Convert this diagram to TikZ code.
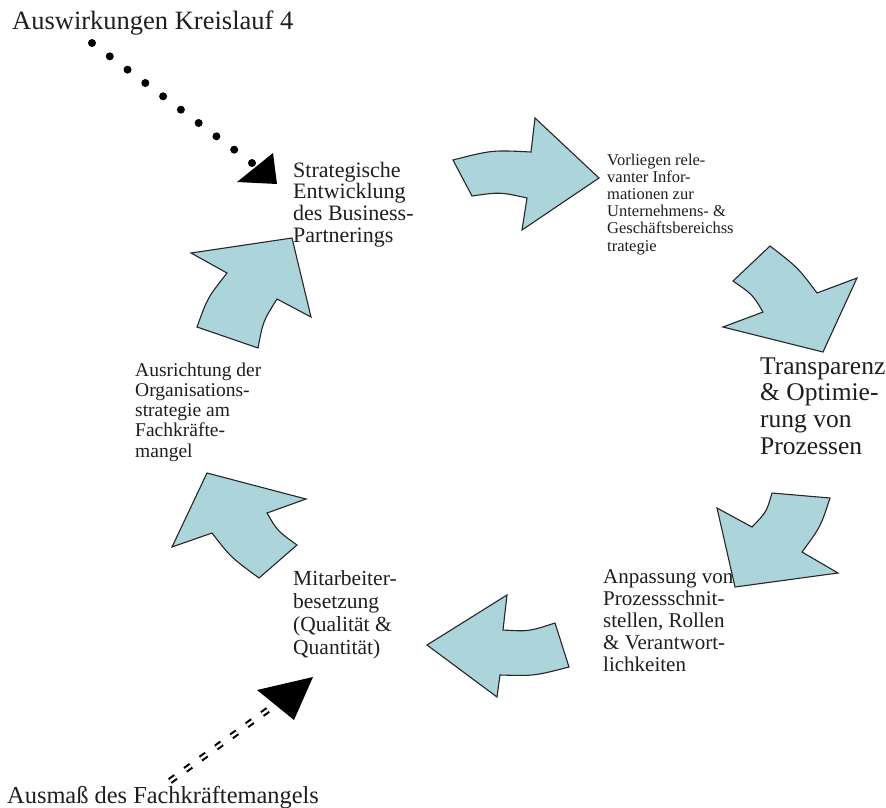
\documentclass[tikz,border=0pt]{standalone}
\usepackage{fontspec}
\setmainfont{Liberation Serif}
\definecolor{cycfill}{RGB}{171,212,219}
\definecolor{inkgray}{RGB}{30,30,30}
\begin{document}
\begin{tikzpicture}[x=1pt,y=-1pt,
  blockarrow/.style={fill=cycfill, draw=black!85, line width=1.1pt, line join=miter},
  % multi-line labels are placed by the baseline of their last line
  lbl/.style={anchor=base west, inner sep=0pt, align=left, text=inkgray},
  dotline/.style={line width=8pt, line cap=round, dash pattern=on 0pt off 22.22pt},
  dashdouble/.style={line width=2.1pt, double=white, double distance=2.4pt, dash pattern=on 7pt off 12pt},
  headfill/.style={fill=black}]
\useasboundingbox (0,0) rectangle (886,807);

% cycle of curved block arrows
\draw[blockarrow] (453,160) .. controls (492,150) .. (531,152) -- (535,118) -- (599,178)
  -- (522,230) -- (527,198) .. controls (500,192) .. (472,196) -- cycle;
\draw[blockarrow] (770,246) -- (733,281) .. controls (752.6,294.6) .. (763,312) -- (723,327)
  -- (823,352) -- (857,278) -- (817,293) .. controls (798,267.6) .. (770,246) -- cycle;
\draw[blockarrow] (772,493) -- (830,498) .. controls (820.5,527) .. (802,552) -- (838,573)
  -- (735,587) -- (717,508) -- (752,527) .. controls (766.5,512) .. (772,493) -- cycle;
\draw[blockarrow] (507,595) -- (503,630) .. controls (528.7,631.5) .. (555,623) -- (569,667)
  .. controls (534.2,676) .. (500,675) -- (497,697) -- (427,645) -- cycle;
\draw[blockarrow] (207,473) -- (306,499) -- (267,513) .. controls (277.4,530.9) .. (297,545)
  -- (259,578) .. controls (230.9,557.4) .. (212,533) -- (172,547) -- cycle;
\draw[blockarrow] (191,253) -- (292,238) -- (311,317) -- (277,299) .. controls (263,321.4) .. (258,348)
  -- (197,327) .. controls (207.5,297.9) .. (227,273) -- cycle;

% labels
\node[lbl, font=\fontsize{26.5}{28}\selectfont] (kreislauf) at (12,29) {Auswirkungen Kreislauf 4};
\node[lbl, font=\fontsize{24.4}{26}\selectfont] (ausmass) at (7,803) {Ausmaß des Fachkräftemangels};

\node[lbl, font=\fontsize{22}{21.7}\selectfont] (strat) at (293,242.1)
  {Strategische\\Entwicklung\\des Business-\\Partnerings};
\node[lbl, font=\fontsize{16.5}{17.2}\selectfont] (info) at (607,251)
  {Vorliegen rele-\\vanter Infor-\\mationen zur\\Unternehmens- \&\\Geschäftsbereichss\\trategie};
\node[lbl, font=\fontsize{25.5}{26.7}\selectfont] (transp) at (760,454.1)
  {Transparenz\\\& Optimie-\\rung von\\Prozessen};
\node[lbl, font=\fontsize{21}{22}\selectfont] (anpass) at (603,671)
  {Anpassung von\\Prozessschnit-\\stellen, Rollen\\\& Verantwort-\\lichkeiten};
\node[lbl, font=\fontsize{19.5}{20.3}\selectfont] (ausricht) at (135,457.2)
  {Ausrichtung der\\Organisations-\\strategie am\\Fachkräfte-\\mangel};
\node[lbl, font=\fontsize{21.5}{23}\selectfont] (mitarb) at (293,654)
  {Mitarbeiter-\\besetzung\\(Qualität \&\\Quantität)};

% dotted input from the title
\coordinate (k4from) at (92,43);
\coordinate (k4to) at (252,163);
\draw[dotline] (k4from) -- (k4to);
\fill[headfill] (273,153) -- (277,184) -- (237,182) -- cycle;

% double dashed input from the bottom label
\coordinate (fkfrom) at (170,781);
\coordinate (fkto) at (283,699);
\draw[dashdouble] (fkfrom) -- (fkto);
\fill[headfill] (257,690) -- (313,677) -- (294,720) -- cycle;
\end{tikzpicture}
\end{document}
